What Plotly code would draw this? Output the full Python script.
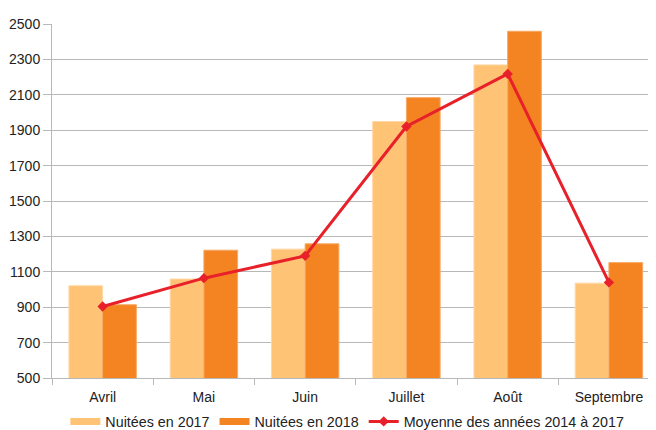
import plotly.graph_objects as go

months = ["Avril", "Mai", "Juin", "Juillet", "Août", "Septembre"]
nuitees_2017 = [1021, 1059, 1228, 1949, 2269, 1036]
nuitees_2018 = [914, 1222, 1258, 2084, 2459, 1152]
moyenne_2014_2017 = [904, 1064, 1190, 1921, 2218, 1040]

name_2017 = "Nuitées en 2017"
name_2018 = "Nuitées en 2018"
name_moy = "Moyenne des années 2014 à 2017"

c2017 = "#FEC374"
c2018 = "#F48422"
cline = "#E8202A"
grid = "#B8B8B8"
font = "Liberation Sans"

fig = go.Figure()
fig.add_trace(go.Bar(x=months, y=nuitees_2017, name=name_2017, showlegend=False,
                     marker=dict(color=c2017, line=dict(color="#FFD8A6", width=1))))
fig.add_trace(go.Bar(x=months, y=nuitees_2018, name=name_2018, showlegend=False,
                     marker=dict(color=c2018, line=dict(color="#F8A863", width=1))))
fig.add_trace(go.Scatter(x=months, y=moyenne_2014_2017, name=name_moy, mode="lines+markers",
                         showlegend=False,
                         line=dict(color=cline, width=3),
                         marker=dict(symbol="diamond", size=8, color=cline)))
# legend proxies
fig.add_trace(go.Scatter(x=[None], y=[None], mode="lines", name=name_2017,
                         line=dict(color=c2017, width=7)))
fig.add_trace(go.Scatter(x=[None], y=[None], mode="lines", name=name_2018,
                         line=dict(color=c2018, width=7)))
fig.add_trace(go.Scatter(x=[None], y=[None], mode="lines+markers", name=name_moy,
                         line=dict(color=cline, width=3),
                         marker=dict(symbol="diamond", size=8, color=cline)))

# page body has an 8px default margin: size the figure to fill the rest
fig.update_layout(
    width=648, height=422,
    margin=dict(l=44, r=0, t=16, b=52, pad=0, autoexpand=False),
    paper_bgcolor="white", plot_bgcolor="white",
    font=dict(family=font, size=14, color="#222222"),
    barmode="group", bargap=0.334, bargroupgap=0,
    legend=dict(orientation="h", x=0.489, xanchor="center", y=-0.078, yanchor="top",
                itemwidth=30, font=dict(size=14.3), tracegroupgap=0,
                bgcolor="rgba(0,0,0,0)"),
    xaxis=dict(range=[-0.5, 5.465], showline=True, linecolor=grid, linewidth=1,
               ticks="outside", tickson="boundaries", ticklen=6, tickcolor=grid,
               ticklabelstandoff=6,
               showgrid=False, fixedrange=True, automargin=False),
    yaxis=dict(range=[500, 2500], dtick=200, tick0=500, showline=True, linecolor=grid,
               linewidth=1, ticks="outside", ticklen=8, tickcolor=grid,
               gridcolor=grid, gridwidth=1, zeroline=False, fixedrange=True,
               automargin=False),
)

fig.write_html("out.html")
